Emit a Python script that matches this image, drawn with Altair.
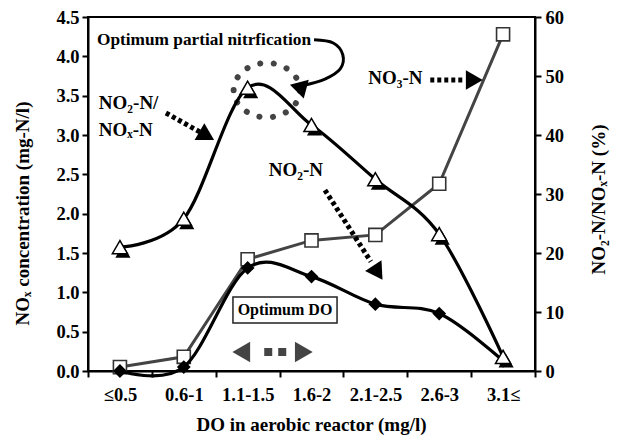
import altair as alt
import pandas as pd

# ---------------- data ----------------
categories = ["≤0.5", "0.6-1", "1.1-1.5", "1.6-2", "2.1-2.5", "2.6-3", "3.1≤"]
no3_n = [0.05, 0.18, 1.42, 1.66, 1.73, 2.38, 4.28]          # mg-N/l (left axis)
no2_n = [0.00, 0.05, 1.31, 1.20, 0.85, 0.73, 0.13]          # mg-N/l (left axis)
ratio_pct = [21.0, 25.8, 48.0, 41.7, 32.5, 23.2, 2.4]       # % (right axis)

left_ticks = [0.0, 0.5, 1.0, 1.5, 2.0, 2.5, 3.0, 3.5, 4.0, 4.5]
right_ticks = [0, 10, 20, 30, 40, 50, 60]

pos = [i + 0.5 for i in range(len(categories))]
df = pd.DataFrame({"cat": categories, "pos": pos, "no3": no3_n,
                   "no2": no2_n, "ratio": ratio_pct})

# annotation texts (positions in data units of the left axis)
txt_df = pd.DataFrame({
    "x": [0.14, 0.17, 0.17, 4.39, 2.83],
    "y": [4.21, 3.41, 3.06, 3.72, 2.56],
    "label": ["Optimum partial nitrfication", "NO₂-N/", "NOₓ-N", "NO₃-N", "NO₂-N"],
    "size": [17.3, 19, 19, 19, 19],
})
curve_df = pd.DataFrame({
    "x": [3.54, 3.84, 3.99, 3.95, 3.71, 3.37],
    "y": [4.21, 4.17, 4.02, 3.84, 3.71, 3.63],
    "o": [0, 1, 2, 3, 4, 5],
})
dash_df = pd.DataFrame({
    "x": [1.22, 5.36, 3.71],
    "y": [3.28, 3.70, 2.30],
    "x2": [1.75, 5.87, 4.43],
    "y2": [3.04, 3.70, 1.39],
})
head_df = pd.DataFrame({
    "x": [1.86, 6.05, 4.54, 3.29],
    "y": [2.99, 3.70, 1.25, 3.61],
    "angle": [30, 0, 57, 195],
})
dbl_dash_df = pd.DataFrame({"x": [2.76], "y": [0.24], "x2": [3.16], "y2": [0.24]})
dbl_head_df = pd.DataFrame({"x": [2.40, 3.38], "y": [0.24, 0.24], "angle": [180, 0]})
box_df = pd.DataFrame({"x": [2.27], "x2": [3.90], "y": [0.94], "y2": [0.61],
                       "xc": [3.085], "yc": [0.775], "label": ["Optimum DO"]})
ellipse_df = pd.DataFrame({"x": [2.80], "y": [3.57]})

# ---------------- styling ----------------
FONT = "Liberation Serif"
xs = alt.Scale(domain=[0, len(categories)], nice=False, zero=False)
yl = alt.Scale(domain=[0, 4.5], nice=False, zero=False)
yr = alt.Scale(domain=[0, 60], nice=False, zero=False)

label_expr = "[" + ",".join(f"'{c}'" for c in categories) + ",''][datum.value]"

common_axis = dict(grid=False, tickSize=6, tickWidth=2, domainWidth=2,
                   domainColor="black", tickColor="black",
                   labelFont=FONT, labelFontSize=18.5, labelFontWeight="bold",
                   labelColor="black", titleFont=FONT, titleFontSize=19,
                   titleFontWeight="bold", titleColor="black")

x_axis = alt.Axis(values=list(range(len(categories) + 1)), labelExpr=label_expr,
                  labelOffset=32, labelFlush=False, labelOverlap=False,
                  labelPadding=8, title="DO in aerobic reactor (mg/l)",
                  titleX=223, titleY=53, titleBaseline="middle", **common_axis)
yl_axis = alt.Axis(values=left_ticks, tickCount=10, format=".1f", labelPadding=3,
                   labelOverlap=False, labelSeparation=0,
                   title="NOₓ concentration (mg-N/l)",
                   titleAngle=270, titleX=-66, titleY=196, titleBaseline="middle",
                   **common_axis)
yr_axis = alt.Axis(values=right_ticks, orient="right", labelPadding=4,
                   labelOverlap=False, title="NO₂-N/NOₓ-N (%)",
                   titleAngle=270, titleX=63, titleY=182, titleBaseline="middle",
                   **common_axis)


def X(f="x", axis=None):
    if axis is None:
        return alt.X(f + ":Q", scale=xs)
    return alt.X(f + ":Q", scale=xs, axis=axis)


def YL(f="y", axis=None):
    if axis is None:
        return alt.Y(f + ":Q", scale=yl)
    return alt.Y(f + ":Q", scale=yl, axis=axis)


base = alt.Chart(df)

no3_line = base.mark_line(color="#444444", strokeWidth=3).encode(
    x=X("pos", x_axis), y=YL("no3", yl_axis))
no3_pts = base.mark_point(shape="square", filled=True, fill="white",
                          stroke="#333333", strokeWidth=1.6, size=170,
                          opacity=1).encode(x=X("pos"), y=YL("no3"))
no2_line = base.mark_line(color="black", strokeWidth=3.2,
                          interpolate="cardinal").encode(x=X("pos"), y=YL("no2"))
no2_pts = base.mark_point(shape="diamond", filled=True, color="black",
                          size=190, opacity=1).encode(x=X("pos"), y=YL("no2"))

# annotations
ellipse_path = ("M-1,0 C-1,-0.45 -0.55,-0.82 0,-0.82 C0.55,-0.82 1,-0.45 1,0 "
                "C1,0.45 0.55,0.82 0,0.82 C-0.55,0.82 -1,0.45 -1,0 Z")
ellipse = alt.Chart(ellipse_df).mark_point(
    shape=ellipse_path, filled=False, stroke="#444444", strokeWidth=6,
    strokeDash=[0.1, 13.5], strokeCap="round", size=4400, opacity=1
).encode(x=X(), y=YL())

curve = alt.Chart(curve_df).mark_line(color="black", strokeWidth=3,
                                      interpolate="cardinal").encode(
    x=X(), y=YL(), order="o:Q")

dashes = alt.Chart(dash_df).mark_rule(color="black", strokeWidth=5,
                                      strokeDash=[4, 3]).encode(
    x=X(), y=YL(), x2="x2:Q", y2="y2:Q")
heads = alt.Chart(head_df).mark_point(shape="triangle-right", filled=True,
                                      color="black", size=380, opacity=1).encode(
    x=X(), y=YL(), angle=alt.Angle("angle:Q", scale=None))

dbl_dash = alt.Chart(dbl_dash_df).mark_rule(color="#444444", strokeWidth=8,
                                            strokeDash=[8, 6]).encode(
    x=X(), y=YL(), x2="x2:Q", y2="y2:Q")
dbl_heads = alt.Chart(dbl_head_df).mark_point(shape="triangle-right", filled=True,
                                              color="#444444", size=420,
                                              opacity=1).encode(
    x=X(), y=YL(), angle=alt.Angle("angle:Q", scale=None))

box = alt.Chart(box_df).mark_rect(fill="white", stroke="#222222",
                                  strokeWidth=1.5).encode(
    x=X(), x2="x2:Q", y=YL(), y2="y2:Q")
box_txt = alt.Chart(box_df).mark_text(font=FONT, fontSize=16, fontWeight="bold",
                                      color="black", align="center",
                                      baseline="middle").encode(
    x=X("xc"), y=YL("yc"), text="label:N")

texts = alt.Chart(txt_df).mark_text(font=FONT, fontWeight="bold", color="black",
                                    align="left", baseline="middle").encode(
    x=X(), y=YL(), text="label:N", size=alt.Size("size:Q", scale=None))

left = alt.layer(no3_line, no3_pts, no2_line, no2_pts, ellipse, curve, dashes,
                 heads, dbl_dash, dbl_heads, box, box_txt, texts)

ratio_line = base.mark_line(color="black", strokeWidth=3.2,
                            interpolate="cardinal").encode(
    x=X("pos"), y=alt.Y("ratio:Q", scale=yr, axis=yr_axis))
ratio_shadow = base.mark_point(shape="triangle-up", filled=True, color="black",
                               size=230, opacity=1, xOffset=3, yOffset=4).encode(
    x=X("pos"), y=alt.Y("ratio:Q", scale=yr))
ratio_pts = base.mark_point(shape="triangle-up", filled=True, fill="white",
                            stroke="black", strokeWidth=1.5, size=230,
                            opacity=1).encode(
    x=X("pos"), y=alt.Y("ratio:Q", scale=yr))

right = alt.layer(ratio_line, ratio_shadow, ratio_pts)

chart = alt.layer(left, right).resolve_scale(y="independent").properties(
    width=447, height=354,
    autosize=alt.AutoSizeParams(type="none"),
    padding={"left": 80, "top": 9, "right": 79, "bottom": 64},
).configure_view(stroke="black", strokeWidth=2).configure_axis(labelOverlap=False)

chart.save("out.html", embed_options={"renderer": "svg", "actions": False})
